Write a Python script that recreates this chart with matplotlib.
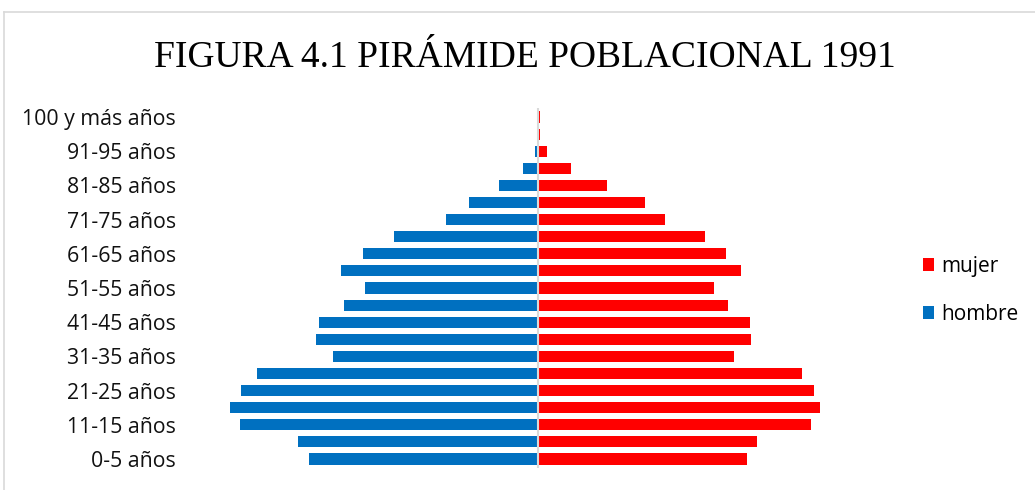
import matplotlib
matplotlib.use("Agg")
import matplotlib.pyplot as plt
from matplotlib.patches import Patch
from matplotlib.lines import Line2D

categories = ["0-5 años", "6-10 años", "11-15 años", "16-20 años", "21-25 años",
              "26-30 años", "31-35 años", "36-40 años", "41-45 años", "46-50 años",
              "51-55 años", "56-60 años", "61-65 años", "66-70 años", "71-75 años",
              "76-80 años", "81-85 años", "86-90 años", "91-95 años", "96-99 años",
              "100 y más años"]
hombre = [229, 240, 298, 308, 297, 281, 205, 222, 219, 194, 173, 197, 175, 144,
          92, 69, 39, 15, 3, 0.5, 0.3]
mujer = [209, 219, 273, 282, 276, 264, 196, 213, 212, 190, 176, 203, 188, 167,
         127, 107, 69, 33, 9, 2, 1.5]
title = "FIGURA 4.1 PIRÁMIDE POBLACIONAL 1991"

BLUE = "#0070C0"
RED = "#FF0000"

fig = plt.figure(figsize=(10.35, 4.9), dpi=100)
W, H = 1035, 490

# frame border
fig.add_artist(Line2D([4 / W, 1.0], [1 - 12 / H, 1 - 12 / H], color="#d9d9d9", lw=1.2))
fig.add_artist(Line2D([4 / W, 4 / W], [0, 1 - 12 / H], color="#d9d9d9", lw=1.2))

ax = fig.add_axes([183 / W, 1 - 467.5 / H, 710 / W, 359 / H])
y = list(range(len(categories)))
ax.barh(y, [-v for v in hombre], height=0.65, color=BLUE, edgecolor="none", label="hombre")
ax.barh(y, mujer, height=0.65, color=RED, edgecolor="none", label="mujer")
ax.axvline(0, color="#d9d9d9", lw=1.5, zorder=3)
ax.set_xlim(-355, 355)
ax.set_ylim(-0.5, len(categories) - 0.5)
ax.set_yticks(y[::2])
ax.set_yticklabels(categories[::2], family="Open Sans", fontsize=15.3, color="#111111")
ax.tick_params(axis="y", length=0, pad=5)
ax.set_xticks([])
for s in ax.spines.values():
    s.set_visible(False)

fig.text(525 / W, 1 - 58 / H, title, family="Liberation Serif", fontsize=27,
         ha="center", va="center", color="black")

handles = [Patch(facecolor=RED, edgecolor="none", label="mujer"),
           Patch(facecolor=BLUE, edgecolor="none", label="hombre")]
fig.legend(handles=handles, loc="center left", bbox_to_anchor=(904 / W, 1 - 290.5 / H),
           frameon=False, prop={"family": "Open Sans", "size": 15},
           handlelength=0.55, handleheight=0.55, handletextpad=0.35, labelspacing=1.3)

fig.savefig("out.png", dpi=100)
